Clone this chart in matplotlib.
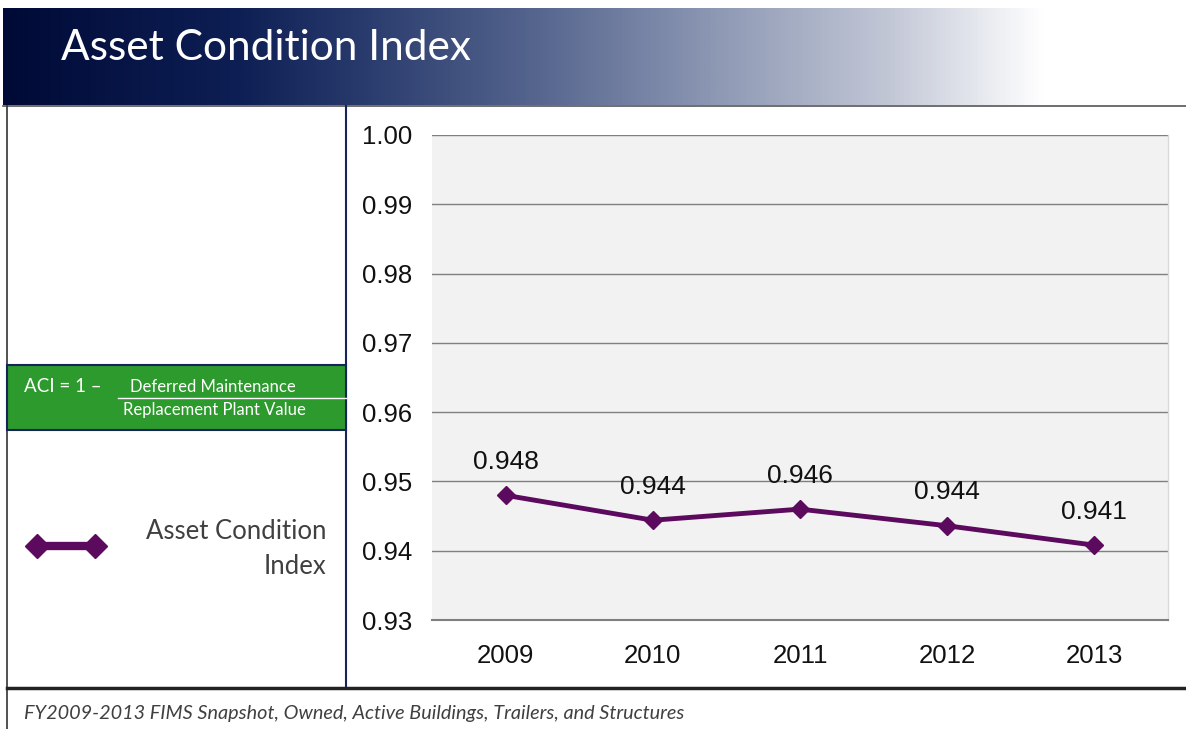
import matplotlib
matplotlib.use("Agg")
import matplotlib.pyplot as plt
import numpy as np
from matplotlib.colors import LinearSegmentedColormap
from matplotlib.patches import Rectangle

years = ["2009", "2010", "2011", "2012", "2013"]
aci = [0.948, 0.9444, 0.946, 0.9436, 0.9408]
y_ticks = [0.93, 0.94, 0.95, 0.96, 0.97, 0.98, 0.99, 1.00]

W, H = 1186, 729
PURPLE = "#5c0a5e"
NAVY = "#15245a"

fig = plt.figure(figsize=(W / 100, H / 100), dpi=100)

# background layer in pixel coordinates
bg = fig.add_axes([0, 0, 1, 1], zorder=0)
bg.set_xlim(0, W)
bg.set_ylim(H, 0)
bg.axis("off")

# header gradient
cmap = LinearSegmentedColormap.from_list(
    "hdr",
    [(0.0, "#000a36"), (0.2, "#0e1f55"), (0.3, "#283a6c"), (0.45, "#55658e"),
     (0.6, "#8c97b3"), (0.75, "#c2c7d6"), (0.88, "#ffffff"), (1.0, "#ffffff")],
)
grad = np.linspace(0, 1, 512).reshape(1, -1)
bg.imshow(grad, cmap=cmap, aspect="auto", extent=[3, W, 105, 8], zorder=1)
bg.text(61, 48, "Asset Condition Index", color="white", fontsize=30.5,
        family="Lato", va="center", ha="left", zorder=3)

# frame lines
bg.plot([3, W], [106, 106], color="#555555", lw=1.2, zorder=2)
bg.plot([7, 7], [106, H], color="#333333", lw=1.2, zorder=2)
bg.plot([346, 346], [106, 688], color=NAVY, lw=1.5, zorder=2)
bg.plot([7, W], [688, 688], color="#222222", lw=2.5, zorder=2)

# formula box
bg.add_patch(Rectangle((7, 365), 339, 65, facecolor="#2c9a2c",
                       edgecolor=NAVY, lw=1.5, zorder=2))
bg.text(24, 386, "ACI = 1 \u2013", color="white", fontsize=13.5, family="Lato",
        va="center", ha="left", zorder=3)
bg.text(213, 387, "Deferred Maintenance", color="white", fontsize=12,
        family="Lato", va="center", ha="center", zorder=3)
bg.plot([118, 346], [398, 398], color="white", lw=1, zorder=3)
bg.text(214, 410, "Replacement Plant Value", color="white", fontsize=12,
        family="Lato", va="center", ha="center", zorder=3)

# legend sample
bg.plot([37, 95], [546, 546], color=PURPLE, lw=6, marker="D", markersize=12,
        solid_capstyle="butt", zorder=3)
bg.text(326, 549, "Asset Condition\nIndex", color="#404040", fontsize=18.5,
        family="Lato", va="center", ha="right", linespacing=1.5, zorder=3)

# footer
bg.text(24, 713, "FY2009-2013 FIMS Snapshot, Owned, Active Buildings, Trailers, and Structures",
        color="#404040", fontsize=14.3, family="Lato", style="italic",
        va="center", ha="left", zorder=3)

# main chart
ax = fig.add_axes([432 / W, 1 - 620 / H, (1168 - 432) / W, (620 - 135) / H], zorder=2)
ax.set_facecolor("#f2f2f2")
x = np.arange(len(years))
ax.plot(x, aci, color=PURPLE, lw=3.5, marker="D", markersize=9, zorder=3)
for xi, v in zip(x, aci):
    ax.annotate(f"{v:.3f}", (xi, v), xytext=(0, 24), textcoords="offset points",
                ha="center", va="center", fontsize=19, family="Liberation Sans",
                color="#111111")

ax.set_xlim(-0.5, len(years) - 0.5)
ax.set_ylim(0.93, 1.00)
ax.set_yticks(y_ticks)
ax.set_yticklabels([f"{t:.2f}" for t in y_ticks])
ax.set_xticks(x)
ax.set_xticklabels(years)
ax.tick_params(axis="both", length=0, labelsize=18.5, labelcolor="#111111")
ax.tick_params(axis="y", pad=14)
ax.tick_params(axis="x", pad=17)
for lbl in ax.get_xticklabels() + ax.get_yticklabels():
    lbl.set_family("Liberation Sans")
ax.grid(axis="y", color="#7f7f7f", lw=1)
ax.set_axisbelow(True)
for s in ["left", "top"]:
    ax.spines[s].set_visible(False)
ax.spines["bottom"].set_color("#7f7f7f")
ax.spines["bottom"].set_linewidth(1.5)
ax.spines["right"].set_color("#d9d9d9")
ax.spines["right"].set_linewidth(1)

fig.savefig("out.png", dpi=100)
